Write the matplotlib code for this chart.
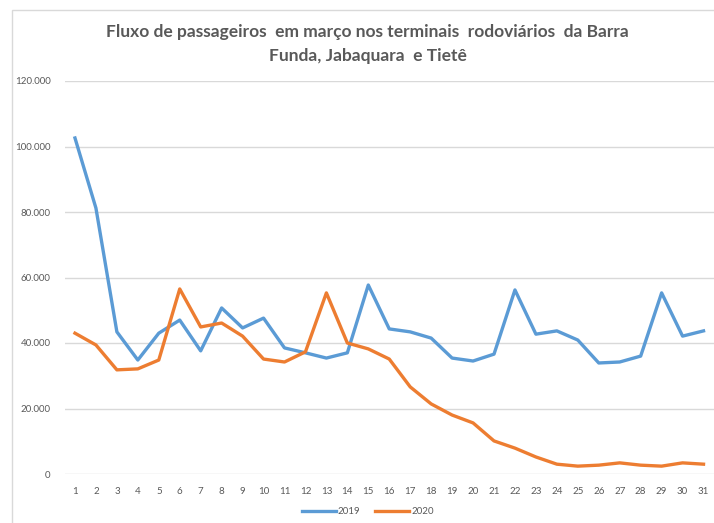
import matplotlib
matplotlib.use("Agg")
import matplotlib.pyplot as plt
from matplotlib.patches import Rectangle
from matplotlib.ticker import FuncFormatter

# dias de março
dias = list(range(1, 32))

# passageiros por dia
v2019 = [102600, 81200, 43400, 34800, 43000, 47000, 37600, 50700, 44600, 47600,
         38500, 37000, 35400, 37000, 57700, 44300, 43400, 41500, 35400, 34500,
         36600, 56200, 42700, 43700, 40900, 33900, 34200, 36000, 55300, 42100, 43700]
v2020 = [43000, 39400, 31800, 32100, 34800, 56500, 44900, 46100, 42100, 35100,
         34200, 37300, 55300, 40000, 38200, 35100, 26600, 21400, 18000, 15600,
         10100, 7900, 5200, 3000, 2400, 2700, 3400, 2700, 2400, 3400, 3000]

yticks = [0, 20000, 40000, 60000, 80000, 100000, 120000]

titulo = "Fluxo de passageiros  em março nos terminais  rodoviários  da Barra\nFunda, Jabaquara  e Tietê"

cinza = "#595959"
plt.rcParams['font.family'] = ['Lato', 'DejaVu Sans']

fig = plt.figure(figsize=(7.14, 5.23), dpi=100)
fig.patches.append(Rectangle((12/714, -0.01), 1.0, 1 - 10/523 + 0.01, transform=fig.transFigure,
                             fill=False, edgecolor="#d9d9d9", linewidth=1))

ax = fig.add_axes([64.5/714, 1 - 474/523, 1 - 64.5/714, (474 - 81)/523])

ax.plot(dias, v2019, color="#5B9BD5", linewidth=2.4, label="2019", solid_joinstyle="round")
ax.plot(dias, v2020, color="#ED7D31", linewidth=2.4, label="2020", solid_joinstyle="round")

ax.set_xlim(0.5, 31.5)
ax.set_ylim(0, 120000)
ax.set_xticks(dias)
ax.set_yticks(yticks)
ax.yaxis.set_major_formatter(FuncFormatter(lambda v, p: f"{int(v):,}".replace(",", ".")))
ax.grid(axis="y", color="#d9d9d9", linewidth=1)
ax.set_axisbelow(True)
for s in ax.spines.values():
    s.set_visible(False)
ax.tick_params(axis="both", length=0, colors=cinza, labelsize=7)
ax.tick_params(axis="y", pad=10)
ax.tick_params(axis="x", pad=9)

fig.text(0.515, 1 - 44/523, titulo, ha="center", va="center", fontsize=12.5,
         fontweight="bold", color=cinza, linespacing=1.65)

leg = fig.legend(loc="center", bbox_to_anchor=(0.515, 1 - 512/523), ncol=2, frameon=False,
                 fontsize=7, handlelength=3.5, handletextpad=0.2, columnspacing=1.5)
for t in leg.get_texts():
    t.set_color(cinza)

fig.savefig("out.png", dpi=100)
